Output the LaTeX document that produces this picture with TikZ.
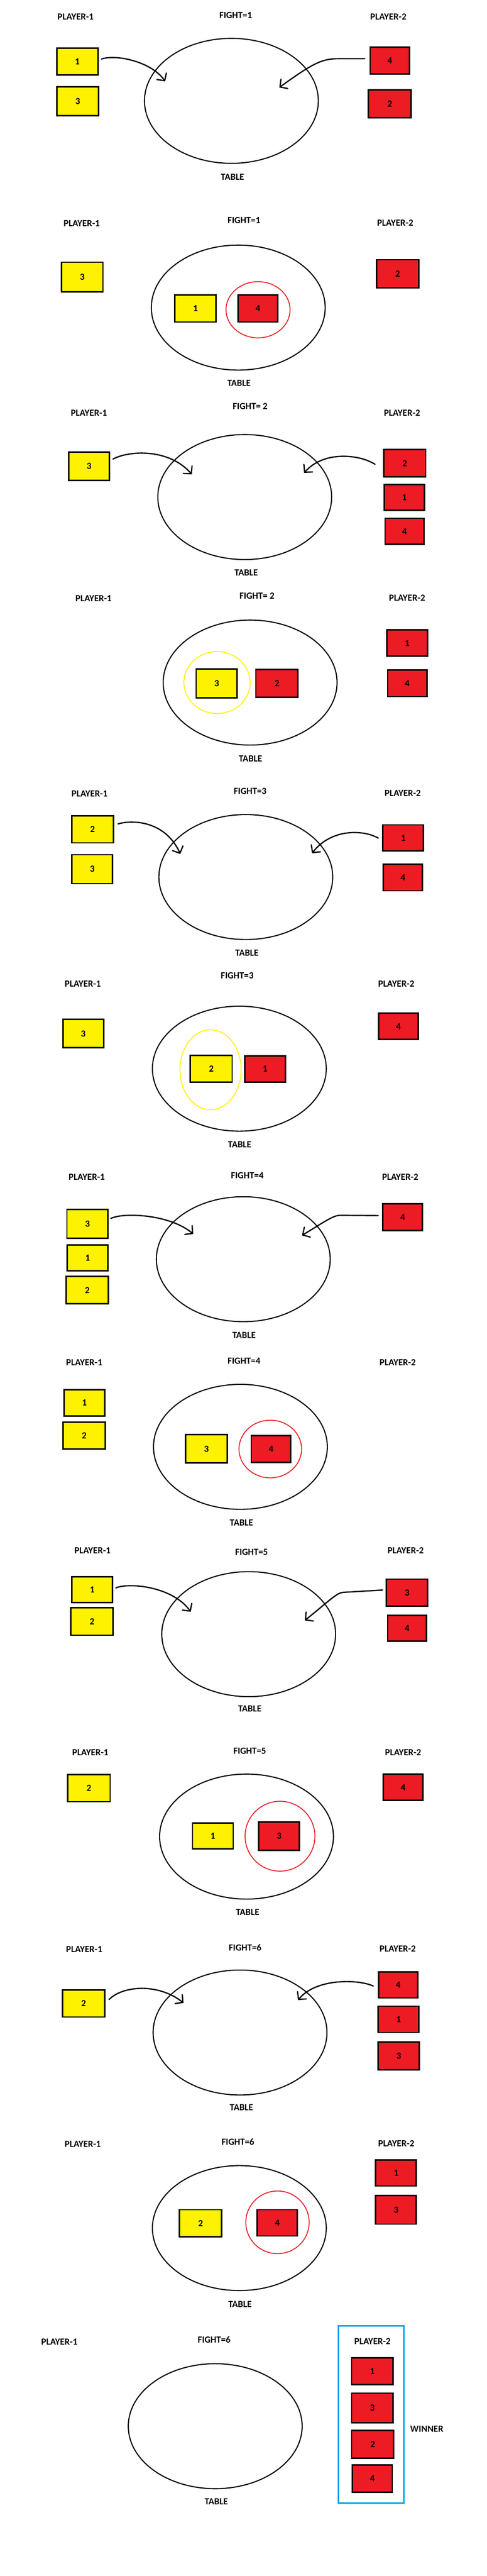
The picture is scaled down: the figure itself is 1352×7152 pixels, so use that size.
\documentclass[tikz,border=0pt]{standalone}
\usepackage{fontspec}
\setmainfont{Carlito}
\usetikzlibrary{arrows.meta,shapes.geometric}
\definecolor{pyellow}{HTML}{FFF200}
\definecolor{pred}{HTML}{ED1C24}
\definecolor{pblue}{HTML}{00A2E8}
\newcommand\labfont{\fontsize{26}{30}\selectfont\bfseries}
\begin{document}
\begin{tikzpicture}[x=1pt,y=-1pt,
  lbl/.style={font=\labfont, inner sep=0pt},
  card/.style 2 args={draw=black, line width=4pt, inner sep=0pt, font=\labfont,
     minimum width={#1pt-4pt}, minimum height={#2pt-4pt}},
  ybox/.style 2 args={card={#1}{#2}, fill=pyellow},
  rbox/.style 2 args={card={#1}{#2}, fill=pred},
  tablee/.style={ellipse, draw=black, line width=3pt, inner sep=0pt,
     minimum width=483pt, minimum height=347pt},
  ring/.style n args={3}{ellipse, draw=#1, line width=2.5pt, inner sep=0pt,
     minimum width={2*#2pt}, minimum height={2*#3pt}},
  arr/.style={line width=3.5pt, line cap=round, line join=round,
     -{Straight Barb[length=15pt,width=32pt,line cap=round]}}]
\fill[white] (0,0) rectangle (1352,7152);
\useasboundingbox (0,0) rectangle (1352,7152);

% ---------- Panel 1 ----------
\node[lbl] (a1) at (210,47) {PLAYER-1};
\node[lbl] (f1) at (655,43) {FIGHT=1};
\node[lbl] (b1) at (1079,46) {PLAYER-2};
\node[tablee] (t1) at (643,280) {};
\node[lbl] (tl1) at (646,491) {TABLE};
\node[ybox={118}{78}] (p1y1) at (215,171) {1};
\node[ybox={119}{85}] (p1y3) at (216,281) {3};
\node[rbox={113}{78}] (p1r4) at (1083,168) {4};
\node[rbox={122}{81}] (p1r2) at (1083,288) {2};
\coordinate (e1l) at (459,226);
\coordinate (e1r) at (776,243);
\draw[arr] ([shift={(8,-7)}]p1y1.east) .. controls (320,150) and (420,170) .. (e1l);
\draw[arr] ([shift={(-13,-5)}]p1r4.west) -- (940,163) .. controls (895,163) and (870,175) .. (e1r);

% ---------- Panel 2 ----------
\node[lbl] (a2) at (227,620) {PLAYER-1};
\node[lbl] (f2) at (678,612) {FIGHT=1};
\node[lbl] (b2) at (1098,619) {PLAYER-2};
\node[tablee] (t2) at (662,854) {};
\node[lbl] (tl2) at (664,1064) {TABLE};
\node[ybox={119}{86}] (p2y3) at (228.5,769) {3};
\node[rbox={122}{82}] (p2r2) at (1105,760) {2};
\node[ring={pred}{89}{78}] (c2) at (717,860) {};
\node[ybox={118}{79}] (p2y1) at (543,856.5) {1};
\node[rbox={115}{79}] (p2r4) at (716.5,856.5) {4};

% ---------- Panel 3 ----------
\node[lbl] (a3) at (247,1146) {PLAYER-1};
\node[lbl] (f3) at (695,1128) {FIGHT= 2};
\node[lbl] (b3) at (1117,1146) {PLAYER-2};
\node[tablee] (t3) at (680,1380) {};
\node[lbl] (tl3) at (684,1590) {TABLE};
\node[ybox={117}{83}] (p3y3) at (247.5,1294.5) {3};
\node[rbox={121}{80}] (p3r2) at (1124.5,1286) {2};
\node[rbox={115}{76}] (p3r1) at (1123.5,1381) {1};
\node[rbox={112}{76}] (p3r4) at (1124,1475) {4};
\coordinate (e3l) at (533,1317);
\coordinate (e3r) at (845,1313);
\draw[arr] ([shift={(8,-20)}]p3y3.east) .. controls (360,1250) and (470,1245) .. (e3l);
\draw[arr] ([shift={(-22,3)}]p3r2.west) .. controls (1000,1262) and (900,1250) .. (e3r);

% ---------- Panel 4 ----------
\node[lbl] (a4) at (260,1661) {PLAYER-1};
\node[lbl] (f4) at (714,1654) {FIGHT= 2};
\node[lbl] (b4) at (1131,1660) {PLAYER-2};
\node[tablee] (t4) at (695,1895) {};
\node[lbl] (tl4) at (696,2106) {TABLE};
\node[ring={pyellow}{92}{86}] (c4) at (603,1895) {};
\node[ybox={118}{84}] (p4y3) at (602,1897) {3};
\node[rbox={121}{81}] (p4r2) at (769.5,1897.5) {2};
\node[rbox={117}{77}] (p4r1) at (1131.5,1785.5) {1};
\node[rbox={113}{78}] (p4r4) at (1131.5,1897) {4};

% ---------- Panel 5 ----------
\node[lbl] (a5) at (249,2203) {PLAYER-1};
\node[lbl] (f5) at (695,2197) {FIGHT=3};
\node[lbl] (b5) at (1119,2202) {PLAYER-2};
\node[tablee] (t5) at (683,2435) {};
\node[lbl] (tl5) at (686,2646) {TABLE};
\node[ybox={120}{79}] (p5y2) at (257,2302.5) {2};
\node[ybox={117}{84}] (p5y3) at (256.5,2413) {3};
\node[rbox={117}{76}] (p5r1) at (1120.5,2326) {1};
\node[rbox={113}{77}] (p5r4) at (1119.5,2436.5) {4};
\coordinate (e5l) at (501,2371);
\coordinate (e5r) at (867,2369);
\draw[arr] ([shift={(11,-15)}]p5y2.east) .. controls (370,2275) and (460,2280) .. (e5l);
\draw[arr] ([shift={(-11,1)}]p5r1.west) .. controls (1010,2303) and (920,2300) .. (e5r);

% ---------- Panel 6 ----------
\node[lbl] (a6) at (230,2732) {PLAYER-1};
\node[lbl] (f6) at (659,2708) {FIGHT=3};
\node[lbl] (b6) at (1101,2732) {PLAYER-2};
\node[tablee] (t6) at (665,2967) {};
\node[lbl] (tl6) at (666,3178) {TABLE};
\node[ybox={117}{83}] (p6y3) at (231.5,2869.5) {3};
\node[rbox={114}{77}] (p6r4) at (1107,2849.5) {4};
\node[ring={pyellow}{85}{111}] (c6) at (585,2970) {};
\node[ybox={120}{78}] (p6y2) at (587,2967) {2};
\node[rbox={117}{76}] (p6r1) at (736.5,2968) {1};

% ---------- Panel 7 ----------
\node[lbl] (a7) at (241,3268) {PLAYER-1};
\node[lbl] (f7) at (687,3264) {FIGHT=4};
\node[lbl] (b7) at (1112,3268) {PLAYER-2};
\node[tablee] (t7) at (676,3496) {};
\node[lbl] (tl7) at (678,3707) {TABLE};
\node[ybox={118}{84}] (p7y3) at (243,3398) {3};
\node[ybox={117}{76}] (p7y1) at (243.5,3492) {1};
\node[ybox={121}{80}] (p7y2) at (242.5,3582) {2};
\node[rbox={114}{78}] (p7r4) at (1119,3379) {4};
\coordinate (e7l) at (537,3426);
\coordinate (e7r) at (839,3430);
\draw[arr] ([shift={(6,-15)}]p7y3.east) .. controls (340,3366) and (470,3370) .. (e7l);
\draw[arr] ([shift={(-11,-4)}]p7r4.west) -- (945,3374) .. controls (925,3375) and (905,3390) .. (e7r);

% ---------- Panel 8 ----------
\node[lbl] (a8) at (234,3783) {PLAYER-1};
\node[lbl] (f8) at (678,3779) {FIGHT=4};
\node[lbl] (b8) at (1105,3782) {PLAYER-2};
\node[tablee] (t8) at (668,4017) {};
\node[lbl] (tl8) at (671,4227) {TABLE};
\node[ybox={117}{76}] (p8y1) at (234.5,3895) {1};
\node[ybox={122}{79}] (p8y2) at (234,3985.5) {2};
\node[ring={pred}{87}{80}] (c8) at (751,4023) {};
\node[ybox={119}{83}] (p8y3) at (573.5,4022.5) {3};
\node[rbox={114}{78}] (p8r4) at (753,4023) {4};

% ---------- Panel 9 ----------
\node[lbl] (a9) at (257,4305) {PLAYER-1};
\node[lbl] (f9) at (699,4309) {FIGHT=5};
\node[lbl] (b9) at (1127,4305) {PLAYER-2};
\node[tablee] (t9) at (691,4537) {};
\node[lbl] (tl9) at (694,4744) {TABLE};
\node[ybox={117}{75}] (p9y1) at (256.5,4413.5) {1};
\node[ybox={121}{80}] (p9y2) at (255.5,4502) {2};
\node[rbox={118}{79}] (p9r3) at (1131,4421.5) {3};
\node[rbox={112}{76}] (p9r4) at (1131,4521) {4};
\coordinate (e9l) at (530,4475);
\coordinate (e9r) at (847,4499);
\draw[arr] ([shift={(7,-5)}]p9y1.east) .. controls (360,4393) and (480,4405) .. (e9l);
\draw[arr] ([shift={(-9,-7)}]p9r3.west) -- (953,4421) .. controls (935,4423) and (920,4440) .. (e9r);

% ---------- Panel 10 ----------
\node[lbl] (a10) at (251,4865) {PLAYER-1};
\node[lbl] (f10) at (694,4862) {FIGHT=5};
\node[lbl] (b10) at (1120,4865) {PLAYER-2};
\node[tablee] (t10) at (685,5099) {};
\node[lbl] (tl10) at (688,5309) {TABLE};
\node[ybox={122}{79}] (p10y2) at (247,4964.5) {2};
\node[rbox={114}{77}] (p10r4) at (1120,4962.5) {4};
\node[ring={pred}{97}{97}] (c10) at (778,5098) {};
\node[ybox={117}{76}] (p10y1) at (591.5,5097) {1};
\node[rbox={117}{83}] (p10r3) at (775.5,5097.5) {3};

% ---------- Panel 11 ----------
\node[lbl] (a11) at (234,5412) {PLAYER-1};
\node[lbl] (f11) at (681,5408) {FIGHT=6};
\node[lbl] (b11) at (1105,5410) {PLAYER-2};
\node[tablee] (t11) at (667,5643) {};
\node[lbl] (tl11) at (671,5851) {TABLE};
\node[ybox={121}{79}] (p11y2) at (232.5,5562.5) {2};
\node[rbox={113}{76}] (p11r4) at (1106.5,5511) {4};
\node[rbox={117}{77}] (p11r1) at (1107.5,5606.5) {1};
\node[rbox={118}{82}] (p11r3) at (1108,5708) {3};
\coordinate (e11l) at (510,5561);
\coordinate (e11r) at (828,5553);
\draw[arr] ([shift={(10,-11)}]p11y2.east) .. controls (340,5513) and (440,5505) .. (e11l);
\draw[arr] ([shift={(-13,3)}]p11r4.west) .. controls (1000,5496) and (880,5490) .. (e11r);

% ---------- Panel 12 ----------
\node[lbl] (a12) at (230,5953) {PLAYER-1};
\node[lbl] (f12) at (661,5946) {FIGHT=6};
\node[lbl] (b12) at (1101,5951) {PLAYER-2};
\node[tablee] (t12) at (665,6186) {};
\node[lbl] (tl12) at (667,6398) {TABLE};
\node[rbox={117}{76}] (p12r1) at (1100.5,6033) {1};
\node[rbox={117}{83}] (p12r3) at (1100.5,6135.5) {3};
\node[ring={pred}{88}{87}] (c12) at (771,6170) {};
\node[ybox={121}{79}] (p12y2) at (557.5,6172.5) {2};
\node[rbox={115}{77}] (p12r4) at (770.5,6171.5) {4};

% ---------- Panel 13 ----------
\node[lbl] (a13) at (165,6502) {PLAYER-1};
\node[lbl] (f13) at (595,6496) {FIGHT=6};
\node[tablee] (t13) at (598,6736) {};
\node[lbl] (tl13) at (601,6946) {TABLE};
\node[draw=pblue, line width=4pt, inner sep=0pt, minimum width=182pt, minimum height=492pt] (win) at (1031,6703) {};
\node[lbl] (b13) at (1035,6501) {PLAYER-2};
\node[rbox={119}{78}] (p13r1) at (1034.5,6583) {1};
\node[rbox={119}{86}] (p13r3) at (1034.5,6685) {3};
\node[rbox={121}{81}] (p13r2) at (1035.5,6786.5) {2};
\node[rbox={115}{79}] (p13r4) at (1034.5,6881.5) {4};
\node[lbl] (w13) at (1186,6743) {WINNER};
\end{tikzpicture}
\end{document}
